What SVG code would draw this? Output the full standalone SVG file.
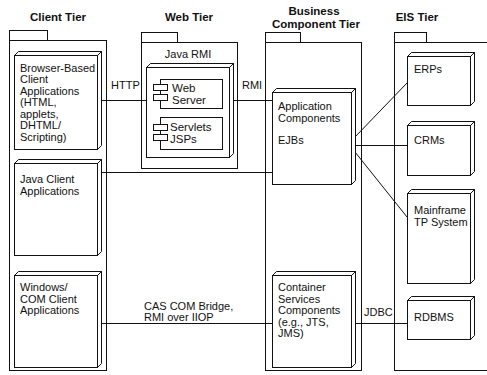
<svg xmlns="http://www.w3.org/2000/svg" width="487" height="375" viewBox="0 0 487 375">
<style>
.pk{fill:#fff;stroke:#111;stroke-width:1}
.nd{fill:#fff;stroke:#111;stroke-width:1;stroke-linejoin:miter}
.ln{stroke:#111;stroke-width:1;fill:none}
text{font-family:"Liberation Sans",Arial,sans-serif;fill:#111}
.h{font-size:11.5px;font-weight:bold;text-anchor:middle}
.t{font-size:11px}
</style>
<rect width="487" height="375" fill="#fff"/>
<!-- headers -->
<text class="h" x="58" y="21">Client Tier</text>
<text class="h" x="189" y="21">Web Tier</text>
<text class="h" x="314" y="15">Business</text>
<text class="h" x="316" y="28">Component Tier</text>
<text class="h" x="417" y="21">EIS Tier</text>

<!-- packages -->
<g id="client-tier">
<rect class="pk" x="9.5" y="30.5" width="38" height="10"/>
<rect class="pk" x="9.5" y="40.5" width="97" height="330"/>
</g>
<g id="web-tier">
<rect class="pk" x="141.5" y="32.5" width="36" height="10"/>
<rect class="pk" x="141.5" y="42.5" width="96" height="126"/>
<text class="t" x="188" y="58" text-anchor="middle">Java RMI</text>
</g>
<g id="business-tier">
<rect class="pk" x="265.5" y="32.5" width="35" height="10"/>
<rect class="pk" x="265.5" y="42.5" width="96" height="328"/>
</g>
<g id="eis-tier">
<rect class="pk" x="394.5" y="32.5" width="32" height="10"/>
<rect class="pk" x="394.5" y="42.5" width="100" height="328"/>
</g>

<!-- connectors -->
<g id="connectors">
<line class="ln" x1="101" y1="100.5" x2="146" y2="100.5"/>
<line class="ln" x1="233" y1="100.5" x2="272" y2="100.5"/>
<line class="ln" x1="101" y1="172.5" x2="272" y2="172.5"/>
<line class="ln" x1="101" y1="323.5" x2="272" y2="323.5"/>
<line class="ln" x1="355" y1="323.5" x2="407" y2="323.5"/>
<line class="ln" x1="355" y1="137" x2="407" y2="83"/>
<line class="ln" x1="355" y1="145.5" x2="407" y2="145.5"/>
<line class="ln" x1="355" y1="152" x2="407" y2="217"/>
<text class="t" x="111" y="89">HTTP</text>
<text class="t" x="242" y="89">RMI</text>
<text class="t" x="144" y="310">CAS COM Bridge,</text>
<text class="t" x="144" y="320.5">RMI over IIOP</text>
<text class="t" x="364" y="316">JDBC</text>
</g>

<!-- nodes -->
<g id="browser-client">
<path class="nd" d="M14.5,55.5 L18.5,51.5 L101.5,51.5 L97.5,55.5 Z M97.5,55.5 L101.5,51.5 L101.5,145.5 L97.5,149.5 Z"/>
<rect class="nd" x="14.5" y="55.5" width="83" height="94"/>
<text class="t" x="20" y="71.5">Browser-Based</text>
<text class="t" x="20" y="83">Client</text>
<text class="t" x="20" y="94.5">Applications</text>
<text class="t" x="20" y="106">(HTML,</text>
<text class="t" x="20" y="117.5">applets,</text>
<text class="t" x="20" y="129">DHTML/</text>
<text class="t" x="20" y="140.5">Scripting)</text>
</g>
<g id="java-client">
<path class="nd" d="M14.5,163.5 L18.5,159.5 L101.5,159.5 L97.5,163.5 Z M97.5,163.5 L101.5,159.5 L101.5,251.5 L97.5,255.5 Z"/>
<rect class="nd" x="14.5" y="163.5" width="83" height="92"/>
<text class="t" x="20" y="183">Java Client</text>
<text class="t" x="20" y="194.5">Applications</text>
</g>
<g id="windows-client">
<path class="nd" d="M14.5,275.5 L18.5,271.5 L101.5,271.5 L97.5,275.5 Z M97.5,275.5 L101.5,271.5 L101.5,363.5 L97.5,367.5 Z"/>
<rect class="nd" x="14.5" y="275.5" width="83" height="92"/>
<text class="t" x="20" y="291">Windows/</text>
<text class="t" x="20" y="302.5">COM Client</text>
<text class="t" x="20" y="314">Applications</text>
</g>
<g id="web-node">
<path class="nd" d="M146.5,67.5 L150.5,63.5 L233.5,63.5 L229.5,67.5 Z M229.5,67.5 L233.5,63.5 L233.5,153.5 L229.5,157.5 Z"/>
<rect class="nd" x="146.5" y="67.5" width="83" height="90"/>
</g>
<g id="web-server">
<rect class="nd" x="160.5" y="79.5" width="62" height="29"/>
<rect class="nd" x="153.5" y="84.5" width="14" height="6"/>
<rect class="nd" x="153.5" y="94.5" width="14" height="6"/>
<text class="t" x="172" y="92" style="font-size:11.5px">Web</text>
<text class="t" x="172" y="104" style="font-size:11.5px">Server</text>
</g>
<g id="servlets-jsps">
<rect class="nd" x="160.5" y="117.5" width="62" height="32"/>
<rect class="nd" x="153.5" y="124.5" width="14" height="6"/>
<rect class="nd" x="153.5" y="134.5" width="14" height="6"/>
<text class="t" x="170" y="131" style="font-size:11.5px">Servlets</text>
<text class="t" x="170" y="143" style="font-size:11.5px">JSPs</text>
</g>
<g id="application-components">
<path class="nd" d="M272.5,92.5 L276.5,88.5 L355.5,88.5 L351.5,92.5 Z M351.5,92.5 L355.5,88.5 L355.5,180.5 L351.5,184.5 Z"/>
<rect class="nd" x="272.5" y="92.5" width="79" height="92"/>
<text class="t" x="278" y="110">Application</text>
<text class="t" x="278" y="121.5">Components</text>
<text class="t" x="278" y="144">EJBs</text>
</g>
<g id="container-services">
<path class="nd" d="M272.5,275.5 L276.5,271.5 L355.5,271.5 L351.5,275.5 Z M351.5,275.5 L355.5,271.5 L355.5,363.5 L351.5,367.5 Z"/>
<rect class="nd" x="272.5" y="275.5" width="79" height="92"/>
<text class="t" x="278" y="291">Container</text>
<text class="t" x="278" y="302.5">Services</text>
<text class="t" x="278" y="314">Components</text>
<text class="t" x="278" y="325.5">(e.g., JTS,</text>
<text class="t" x="278" y="337">JMS)</text>
</g>
<g id="erps">
<path class="nd" d="M407.5,56.5 L411.5,52.5 L474.5,52.5 L470.5,56.5 Z M470.5,56.5 L474.5,52.5 L474.5,101.5 L470.5,105.5 Z"/>
<rect class="nd" x="407.5" y="56.5" width="63" height="49"/>
<text class="t" x="414" y="73">ERPs</text>
</g>
<g id="crms">
<path class="nd" d="M407.5,125.5 L411.5,121.5 L474.5,121.5 L470.5,125.5 Z M470.5,125.5 L474.5,121.5 L474.5,171.5 L470.5,175.5 Z"/>
<rect class="nd" x="407.5" y="125.5" width="63" height="50"/>
<text class="t" x="414" y="144">CRMs</text>
</g>
<g id="mainframe">
<path class="nd" d="M407.5,193.5 L411.5,189.5 L474.5,189.5 L470.5,193.5 Z M470.5,193.5 L474.5,189.5 L474.5,279.5 L470.5,283.5 Z"/>
<rect class="nd" x="407.5" y="193.5" width="63" height="90"/>
<text class="t" x="414" y="214">Mainframe</text>
<text class="t" x="414" y="225.5">TP System</text>
</g>
<g id="rdbms">
<path class="nd" d="M407.5,300.5 L411.5,296.5 L474.5,296.5 L470.5,300.5 Z M470.5,300.5 L474.5,296.5 L474.5,335.5 L470.5,339.5 Z"/>
<rect class="nd" x="407.5" y="300.5" width="63" height="39"/>
<text class="t" x="414" y="321">RDBMS</text>
</g>
</svg>
